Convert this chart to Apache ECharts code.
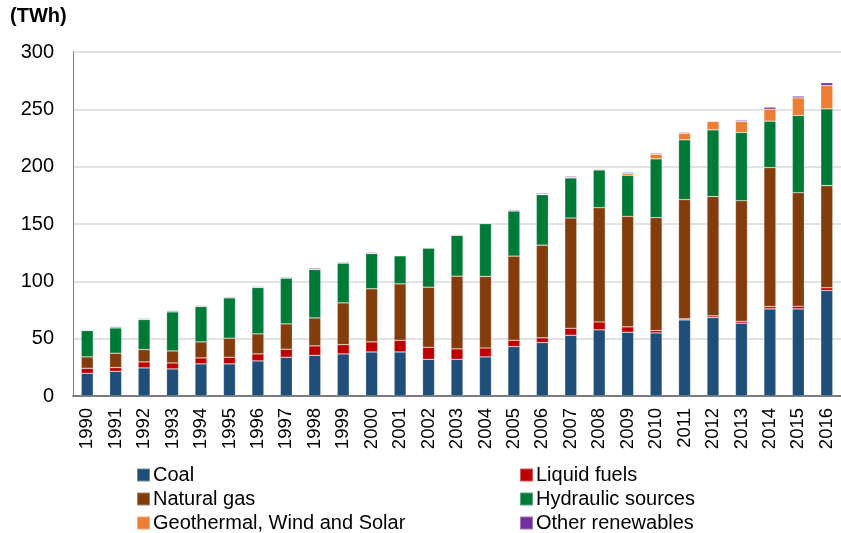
<!DOCTYPE html>
<html>
<head>
<meta charset="utf-8">
<script src="https://cdn.jsdelivr.net/npm/echarts@6/dist/echarts.min.js"></script>
<style>
  html, body { margin: 0; padding: 0; background: #fff; }
  #chart { width: 841px; height: 533px; }
</style>
</head>
<body>
<div id="chart"></div>
<script>
// Electricity generation by source, TWh
const years = ['1990','1991','1992','1993','1994','1995','1996','1997','1998','1999',
  '2000','2001','2002','2003','2004','2005','2006','2007','2008','2009',
  '2010','2011','2012','2013','2014','2015','2016'];

const coal = [19.8, 21.5, 24.5, 23.6, 28.0, 28.0, 30.6, 33.8, 35.5, 36.7,
  38.4, 38.4, 32.0, 32.0, 34.1, 43.1, 46.6, 53.0, 57.7, 55.6,
  55.0, 66.4, 68.4, 63.5, 76.0, 76.0, 92.0];
const liquidFuels = [4.4, 3.3, 5.2, 5.2, 5.2, 5.8, 6.1, 7.0, 8.2, 8.1,
  8.8, 10.2, 10.5, 9.1, 7.8, 5.5, 4.1, 6.1, 6.9, 4.7,
  2.1, 0.9, 1.5, 1.7, 2.0, 2.3, 2.4];
const naturalGas = [9.9, 12.5, 10.8, 10.5, 14.0, 16.6, 17.5, 22.1, 24.4, 36.4,
  46.3, 49.2, 52.4, 63.4, 62.4, 73.4, 80.9, 96.1, 99.6, 96.4,
  98.4, 103.9, 104.0, 105.1, 121.2, 99.0, 89.1];
const hydraulic = [23.0, 22.1, 26.2, 34.1, 30.8, 35.2, 40.4, 39.9, 42.3, 34.7,
  30.8, 24.5, 34.1, 35.6, 46.0, 39.3, 44.0, 35.0, 32.9, 35.8,
  51.3, 52.2, 58.2, 59.5, 40.5, 67.3, 66.9];
const geoWindSolar = [0.1, 0.1, 0.1, 0.1, 0.1, 0.1, 0.1, 0.1, 0.1, 0.1,
  0.1, 0.1, 0.1, 0.2, 0.2, 0.3, 0.3, 0.4, 0.8, 1.7,
  4.0, 5.8, 7.3, 9.6, 10.4, 15.4, 20.4];
const otherRenewables = [0.6, 1.0, 0.8, 1.0, 0.8, 0.8, 0.8, 0.8, 1.0, 0.8,
  0.8, 0.5, 0.5, 0.6, 0.6, 0.9, 0.9, 1.0, 0.4, 0.9,
  0.9, 0.8, 0.6, 1.1, 1.8, 1.5, 2.4];

const yTicks = [0, 50, 100, 150, 200, 250, 300];

const seriesDefs = [
  { name: 'Coal', data: coal, color: '#1F4E79' },
  { name: 'Liquid fuels', data: liquidFuels, color: '#C00000' },
  { name: 'Natural gas', data: naturalGas, color: '#843C0C' },
  { name: 'Hydraulic sources', data: hydraulic, color: '#007A37' },
  { name: 'Geothermal, Wind and Solar', data: geoWindSolar, color: '#ED7D31' },
  { name: 'Other renewables', data: otherRenewables, color: '#7030A0' }
];

const font = 'Liberation Sans, Arial, sans-serif';
const chart = echarts.init(document.getElementById('chart'), null, { renderer: 'canvas' });

const legendBase = {
  orient: 'vertical',
  height: 90,
  padding: 0,
  itemWidth: 13,
  itemHeight: 13,
  itemGap: 4,
  icon: 'rect',
  selectedMode: false,
  textStyle: { fontFamily: font, fontSize: 20, lineHeight: 20, color: '#000', padding: [0, 0, 0, -2] }
};

chart.setOption({
  animation: false,
  color: seriesDefs.map(s => s.color),
  title: {
    text: '(TWh)',
    left: 10, top: 6, padding: 0,
    textStyle: { fontFamily: font, fontSize: 20, fontWeight: 'bold', color: '#000' }
  },
  legend: [
    Object.assign({}, legendBase, { left: 136, top: 465, data: ['Coal', 'Natural gas', 'Geothermal, Wind and Solar'] }),
    Object.assign({}, legendBase, { left: 519, top: 465, data: ['Liquid fuels', 'Hydraulic sources', 'Other renewables'] })
  ],
  grid: { left: 73, right: -7, top: 52, bottom: 137, containLabel: false },
  xAxis: {
    type: 'category',
    data: years,
    axisLine: { lineStyle: { color: '#595959', width: 1.5 } },
    axisTick: { show: false },
    axisLabel: {
      rotate: 90, interval: 0, margin: 12,
      fontFamily: font, fontSize: 18.5, color: '#000'
    }
  },
  yAxis: {
    type: 'value',
    min: yTicks[0], max: yTicks[yTicks.length - 1], interval: 50,
    axisLine: { show: true, lineStyle: { color: '#808080', width: 1 } },
    axisTick: { show: false },
    splitLine: { lineStyle: { color: '#d9d9d9', width: 1.5 } },
    axisLabel: { fontFamily: font, fontSize: 20, color: '#000', margin: 19 }
  },
  series: seriesDefs.map(s => ({
    name: s.name,
    type: 'bar',
    stack: 'total',
    barWidth: 12,
    data: s.data,
    itemStyle: { color: s.color, borderColor: 'rgba(255,255,255,0.35)', borderWidth: 0.6 }
  }))
});
</script>
</body>
</html>
